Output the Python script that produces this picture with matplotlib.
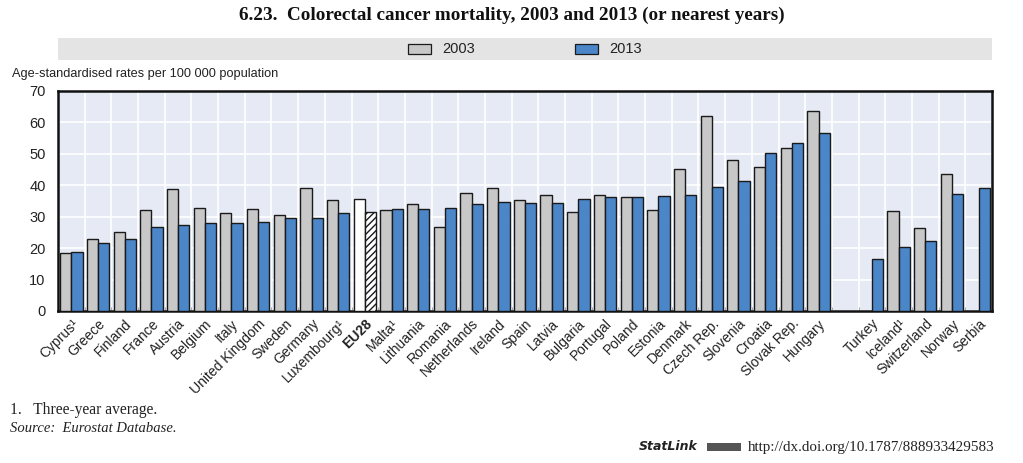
import numpy as np
import matplotlib
matplotlib.use("Agg")
import matplotlib.pyplot as plt
from matplotlib.patches import Rectangle
from matplotlib import font_manager as fm

countries = ["Cyprus¹", "Greece", "Finland", "France", "Austria", "Belgium", "Italy",
             "United Kingdom", "Sweden", "Germany", "Luxembourg¹", "EU28", "Malta¹",
             "Lithuania", "Romania", "Netherlands", "Ireland", "Spain", "Latvia",
             "Bulgaria", "Portugal", "Poland", "Estonia", "Denmark", "Czech Rep.",
             "Slovenia", "Croatia", "Slovak Rep.", "Hungary",
             "Turkey", "Iceland¹", "Switzerland", "Norway", "Serbia"]
v2003 = [18.5, 22.8, 25.1, 32.1, 38.8, 32.7, 31.1, 32.6, 30.5, 39.1, 35.4, 35.6, 32.1,
         34.2, 26.6, 37.6, 39.0, 35.3, 36.9, 31.5, 36.8, 36.3, 32.1, 45.2, 61.9,
         48.1, 45.7, 51.9, 63.6,
         np.nan, 31.9, 26.5, 43.7, np.nan]
v2013 = [18.9, 21.7, 22.8, 26.8, 27.3, 27.9, 27.9, 28.3, 29.6, 29.6, 31.1, 31.4, 32.3,
         32.5, 32.7, 34.0, 34.6, 34.5, 34.5, 35.6, 36.2, 36.2, 36.5, 36.8, 39.3,
         41.4, 50.3, 53.6, 56.7,
         16.7, 20.3, 22.4, 37.2, 39.1]
n_eu = 29
yticks = [0, 10, 20, 30, 40, 50, 60, 70]

avail = {f.name for f in fm.fontManager.ttflist}
narrow = "Liberation Sans Narrow" if "Liberation Sans Narrow" in avail else "Liberation Sans"
serif = "Liberation Serif"

W, H = 1023, 463
fig = plt.figure(figsize=(W / 100, H / 100), dpi=100)
L, R, T, B = 58, 992, 91, 311
ax = fig.add_axes([L / W, 1 - B / H, (R - L) / W, (B - T) / H])

pos = np.array([i if i < n_eu else i + 1 for i in range(len(countries))], dtype=float)
nslots = len(countries) + 1
bw = 0.42
grey = "#C8C8C8"
blue = "#4A86C8"
ec = "#1a1a1a"

c03 = [grey] * len(countries)
c13 = [blue] * len(countries)
eu = countries.index("EU28")
c03[eu] = "white"
c13[eu] = "white"

b1 = ax.bar(pos - bw / 2, v2003, width=bw, color=c03, edgecolor=ec, linewidth=1.0, zorder=3)
b2 = ax.bar(pos + bw / 2, v2013, width=bw, color=c13, edgecolor=ec, linewidth=1.0, zorder=3)
b2[eu].set_hatch("/////")

ax.set_xlim(-0.5, nslots - 0.5)
ax.set_ylim(0, 70)
ax.set_facecolor("#E6EAF5")
ax.set_yticks(yticks)
ax.set_yticklabels([str(t) for t in yticks], fontsize=10.5, family=narrow, color="#222222")
ax.tick_params(axis="y", length=0, pad=9)
bounds = np.arange(0.5, nslots - 0.5, 1.0)
ax.set_xticks(bounds, minor=True)
ax.set_xticks(pos)
ax.set_xticklabels(countries, rotation=45, ha="right", rotation_mode="anchor",
                   fontsize=10, family=narrow, color="#222222")
for lbl in ax.get_xticklabels():
    if lbl.get_text() == "EU28":
        lbl.set_fontweight("bold")
ax.tick_params(axis="x", which="major", length=0, pad=4)
ax.tick_params(axis="x", which="minor", length=3, direction="in", color="#999999")
ax.grid(True, axis="y", color="white", linewidth=1.2, zorder=0)
ax.grid(True, axis="x", which="minor", color="white", linewidth=1.2, zorder=0)
for s in ax.spines.values():
    s.set_linewidth(1.8)
    s.set_color("#111111")

# Legend band
fig.patches.append(Rectangle((L / W, 1 - 60 / H), (R - L) / W, 22 / H,
                             transform=fig.transFigure, facecolor="#E4E4E4",
                             edgecolor="none", zorder=0))
for x0, col, lab in [(408, grey, "2003"), (575, blue, "2013")]:
    fig.patches.append(Rectangle((x0 / W, 1 - 54 / H), 23 / W, 10 / H,
                                 transform=fig.transFigure, facecolor=col,
                                 edgecolor=ec, linewidth=0.9))
    fig.text((x0 + 34) / W, 1 - 49 / H, lab, fontsize=10.5, family=narrow,
             va="center", ha="left", color="#222222")

fig.text(512 / W, 1 - 15 / H, "6.23.  Colorectal cancer mortality, 2003 and 2013 (or nearest years)",
         fontsize=13.8, family=serif, fontweight="bold", ha="center", va="center", color="#111111")
fig.text(12 / W, 1 - 74 / H, "Age-standardised rates per 100 000 population",
         fontsize=9.2, family=narrow, ha="left", va="center", color="#222222")
fig.text(10 / W, 1 - 410 / H, "1.   Three-year average.", fontsize=11.2, family=serif,
         ha="left", va="center", color="#222222")
fig.text(10 / W, 1 - 429 / H, "Source:  Eurostat Database.", fontsize=10.5, family=serif,
         style="italic", ha="left", va="center", color="#222222")
fig.text(639 / W, 1 - 447 / H, "StatLink", fontsize=9, family="DejaVu Sans",
         style="italic", fontweight="bold", ha="left", va="center", color="#222222")
fig.patches.append(Rectangle((707 / W, 1 - 451 / H), 34 / W, 8 / H,
                             transform=fig.transFigure, facecolor="#555555",
                             edgecolor="none"))
fig.text(748 / W, 1 - 447 / H, "http://dx.doi.org/10.1787/888933429583", fontsize=10.9,
         family=serif, ha="left", va="center", color="#222222")

fig.savefig("out.png", dpi=100)
